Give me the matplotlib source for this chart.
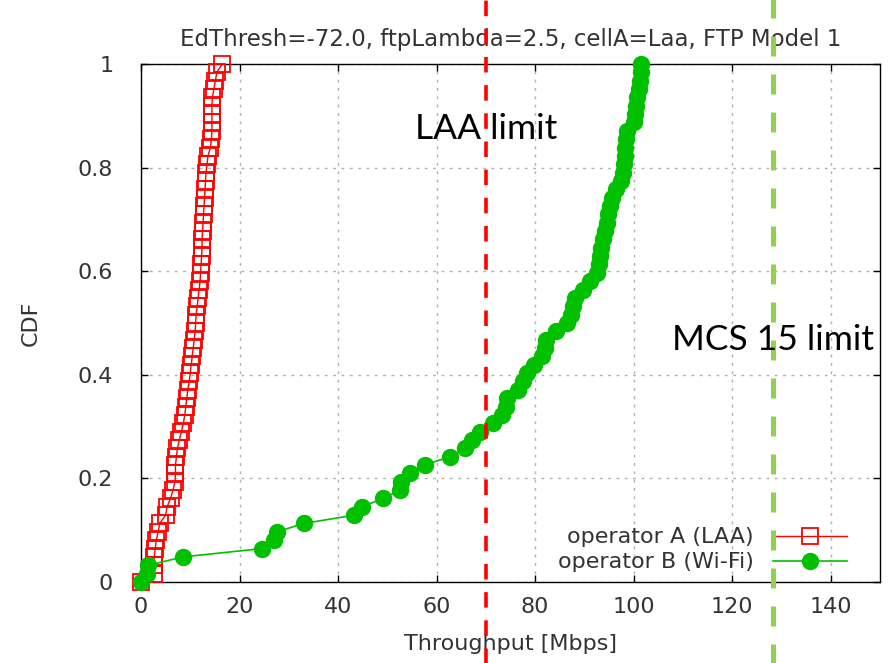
import matplotlib
matplotlib.use("Agg")
import matplotlib.pyplot as plt
import numpy as np

# throughput samples (Mbps), sorted
laa_tput = [0.0, 2.6, 2.6, 2.7, 2.9, 3.1, 3.5, 3.8, 5.0, 5.3,
            6.0, 6.5, 6.9, 7.0, 7.0, 7.2, 7.4, 7.8, 8.2, 8.6,
            8.9, 9.1, 9.3, 9.5, 9.8, 10.0, 10.2, 10.4, 10.6, 10.8,
            11.0, 11.1, 11.2, 11.4, 11.6, 11.8, 12.0, 12.1, 12.2, 12.3,
            12.4, 12.4, 12.5, 12.6, 12.7, 12.8, 12.9, 13.0, 13.1, 13.2,
            13.4, 13.6, 14.1, 14.3, 14.4, 14.4, 14.4, 14.4, 14.5, 14.8,
            15.1, 15.4, 16.5]
wifi_tput = [0.0, 1.2, 1.5, 8.5, 24.6, 27.0, 27.6, 33.0, 43.3, 44.8,
             49.2, 52.6, 52.8, 54.6, 57.6, 62.7, 65.8, 67.1, 68.8, 71.5,
             73.2, 74.0, 74.3, 76.5, 77.5, 78.3, 79.8, 81.3, 82.0, 82.3,
             84.2, 86.5, 87.2, 87.6, 88.0, 89.8, 91.2, 92.6, 93.0, 93.2,
             93.4, 93.7, 94.1, 94.5, 94.8, 95.1, 95.6, 96.5, 97.5, 97.8,
             98.0, 98.2, 98.3, 98.4, 98.6, 100.1, 100.3, 100.4, 100.6, 101.1,
             101.3, 101.4, 101.5]
series_labels = ["operator A (LAA)", "operator B (Wi-Fi)"]
limit_x = [70.0, 128.2]
limit_labels = ["LAA limit", "MCS 15 limit"]
xticks = [0, 20, 40, 60, 80, 100, 120, 140]
yticks = [0, 0.2, 0.4, 0.6, 0.8, 1]
ytick_labels = ["0", "0.2", "0.4", "0.6", "0.8", "1"]
title = "EdThresh=-72.0, ftpLambda=2.5, cellA=Laa, FTP Model 1"

txt = "#333333"
fs = 16
plt.rcParams['font.family'] = ['DejaVu Sans']

fig = plt.figure(figsize=(8.9, 6.63), dpi=100)
ax = fig.add_axes([0.1584, 0.1222, 0.8304, 0.7813])


def ecdf(v):
    v = np.asarray(v)
    return v, np.arange(len(v)) / (len(v) - 1)


x, y = ecdf(laa_tput)
ax.plot(x, y, color="#ff0000", lw=1, marker="s", ms=11.5, mfc="none",
        mec="#ff0000", mew=1.3, label=series_labels[0], clip_on=False, zorder=3)
x, y = ecdf(wifi_tput)
ax.plot(x, y, color="#00c000", lw=1.2, marker="o", ms=11.5, mfc="#00c000",
        mec="#00c000", label=series_labels[1], clip_on=False, zorder=4)

ax.set_xlim(0, 150)
ax.set_ylim(0, 1)
ax.set_xticks(xticks)
ax.set_yticks(yticks)
ax.set_yticklabels(ytick_labels)
ax.grid(True, color="#b0b0b0", ls=(0, (2, 4)), lw=1)
ax.tick_params(direction="in", length=5, width=1, top=True, right=True,
               labelsize=fs, colors="black", labelcolor=txt)
ax.tick_params(axis="y", pad=20)
ax.tick_params(axis="x", pad=11)
for sp in ax.spines.values():
    sp.set_linewidth(1)

ax.set_title(title, fontsize=16.5, color=txt, pad=13)
ax.set_xlabel("Throughput [Mbps]", fontsize=fs, color=txt, labelpad=12)
ax.set_ylabel("CDF", fontsize=fs, color=txt, labelpad=27)

leg = ax.legend(loc="lower right", bbox_to_anchor=(0.982, -0.02), markerfirst=False,
                frameon=False, fontsize=fs, handlelength=3.3, labelspacing=0.22,
                handletextpad=0.9)
for t in leg.get_texts():
    t.set_color(txt)
    t.set_ha("right")

# the two limit lines run across the whole picture
ax.axvline(limit_x[0], ymin=-0.2, ymax=1.2, color="#ff0000", lw=2.6,
           ls=(0, (4.3, 3.5)), clip_on=False, zorder=10)
ax.axvline(limit_x[1], ymin=-0.2, ymax=1.2, color="#92d050", lw=3.6,
           ls=(0, (4, 3.6)), clip_on=False, zorder=10)

ax.text(0.371, 0.874, limit_labels[0], transform=ax.transAxes, fontsize=25.5,
        family="Lato", color="black", va="center", zorder=11)
ax.text(0.7185, 0.468, limit_labels[1], transform=ax.transAxes, fontsize=25.5,
        family="Lato", color="black", va="center", zorder=11)

fig.savefig("out.png", dpi=100)
